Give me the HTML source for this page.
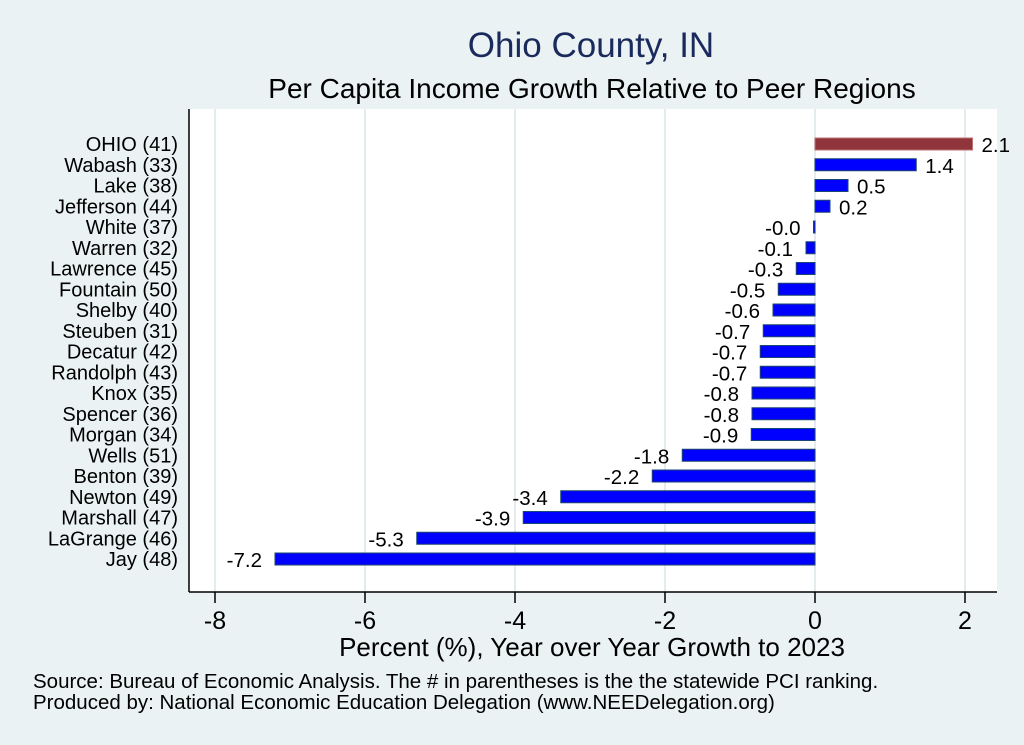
<!DOCTYPE html>
<html><head><meta charset="utf-8"><style>
body{margin:0;background:#eaf2f3;}
svg{display:block;font-family:"Liberation Sans",sans-serif;}
</style></head><body>
<svg id="c" width="1024" height="745">
<rect x="0" y="0" width="1024" height="745" fill="#eaf2f3"/>
<rect x="189" y="109" width="808" height="483" fill="#ffffff"/>
<text x="591" y="57" text-anchor="middle" font-size="35" fill="#1a2a5c">Ohio County, IN</text>
<text x="592" y="98" text-anchor="middle" font-size="28" fill="#000">Per Capita Income Growth Relative to Peer Regions</text>
<g id="grid"></g><g id="bars"></g><g id="ylabels"></g><g id="xticks"></g>
<line x1="189" y1="109" x2="189" y2="592" stroke="#000" stroke-width="1.5"/>
<line x1="189" y1="592" x2="997" y2="592" stroke="#000" stroke-width="1.5"/>
<text x="592" y="656" text-anchor="middle" font-size="26">Percent (%), Year over Year Growth to 2023</text>
<text x="33" y="688" font-size="20.5">Source: Bureau of Economic Analysis. The # in parentheses is the the statewide PCI ranking.</text>
<text x="33" y="709" font-size="20.5">Produced by: National Economic Education Delegation (www.NEEDelegation.org)</text>
</svg>
<script>
const categories=["OHIO (41)","Wabash (33)","Lake (38)","Jefferson (44)","White (37)","Warren (32)","Lawrence (45)","Fountain (50)","Shelby (40)","Steuben (31)","Decatur (42)","Randolph (43)","Knox (35)","Spencer (36)","Morgan (34)","Wells (51)","Benton (39)","Newton (49)","Marshall (47)","LaGrange (46)","Jay (48)"];
const values=[2.1,1.35,0.44,0.2,-0.02,-0.12,-0.25,-0.49,-0.56,-0.69,-0.73,-0.73,-0.84,-0.84,-0.85,-1.77,-2.17,-3.39,-3.89,-5.31,-7.2];
const labels=["2.1","1.4","0.5","0.2","-0.0","-0.1","-0.3","-0.5","-0.6","-0.7","-0.7","-0.7","-0.8","-0.8","-0.9","-1.8","-2.2","-3.4","-3.9","-5.3","-7.2"];
const xTicks=[-8,-6,-4,-2,0,2];
const NS="http://www.w3.org/2000/svg";
const x=v=>815+v*75;
const y=i=>144+i*(415/20);
function mk(t,a,p){const e=document.createElementNS(NS,t);for(const k in a)e.setAttribute(k,a[k]);document.getElementById(p).appendChild(e);return e;}
xTicks.forEach(t=>{
  const g=mk('line',{x1:x(t),x2:x(t),y1:109,y2:592,stroke:'#e4ecf0','stroke-width':2},'grid');
  
  
  const tk=mk('line',{x1:x(t),x2:x(t),y1:592,y2:603,stroke:'#000','stroke-width':1.5},'xticks');
  
  
  const tl=mk('text',{x:x(t),y:629,'text-anchor':'middle','font-size':25},'xticks');
  tl.textContent=t;
  
  
});
categories.forEach((c,i)=>{
  const v=values[i],x0=Math.min(x(0),x(v)),w=Math.max(Math.abs(x(v)-x(0)),1.5);
  const b=mk('rect',{x:x0,y:y(i)-6,width:w,height:12,fill:i==0?'#90353b':'#0000ff',stroke:i==0?'#c07070':'#1a476f','stroke-width':1},'bars');
  
  
  const l=mk('text',{x:v>=0?x(v)+9:x(v)-13,y:y(i)+8,'text-anchor':v>=0?'start':'end','font-size':20.5},'bars');
  l.textContent=labels[i];
  
  
  const yl=mk('text',{x:178,y:y(i)+7,'text-anchor':'end','font-size':20},'ylabels');
  yl.textContent=c;
  
  
});
</script>
</body></html>
